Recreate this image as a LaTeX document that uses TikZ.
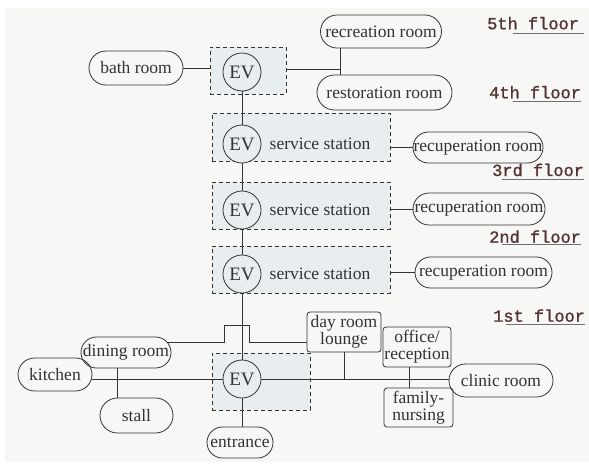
\documentclass[tikz,border=0pt]{standalone}
\usepackage{fontspec}
\setmainfont{Liberation Serif}
\newfontfamily\floorfont[FakeBold=1.2]{Liberation Mono}
\definecolor{paper}{HTML}{F7F8F5}
\definecolor{boxfill}{HTML}{E8EDEF}
\definecolor{ink}{HTML}{333333}
\definecolor{floorink}{HTML}{553333}
\begin{document}
\begin{tikzpicture}[x=1pt,y=-1pt,
  every node/.style={font=\fontsize{17.5}{17}\selectfont, text=ink},
  conn/.style={draw=ink, line width=0.8pt},
  fbox/.style={rectangle, draw=ink, dash pattern=on 4pt off 3pt, line width=0.8pt, fill=boxfill, inner sep=0pt},
  evnode/.style={circle, draw=ink, line width=0.8pt, fill=boxfill, minimum size=38pt, inner sep=0pt, font=\fontsize{19}{19}\selectfont},
  pill/.style={rectangle, draw=ink, line width=0.8pt, inner sep=0pt, minimum height=#1pt, rounded corners=#1pt/2-0.01pt},
  roombox/.style={rectangle, rounded corners=3pt, draw=ink, line width=0.8pt, inner sep=0pt, align=center},
  floor/.style={font=\floorfont\fontsize{17}{17}\selectfont, text=floorink, anchor=base west, inner sep=0pt},
  uline/.style={draw=ink!70, line width=0.7pt}
]
\fill[white] (0,0) rectangle (589,464);
\fill[paper] (5,8) rectangle (589,462);
\useasboundingbox (0,0) rectangle (589,464);

% dashed floor boxes
\node[fbox, minimum width=76pt, minimum height=47pt] (box5) at (248,70.5) {};
\node[fbox, minimum width=178pt, minimum height=48pt] (box4) at (301,137) {};
\node[fbox, minimum width=178pt, minimum height=47pt] (box3) at (301,205.5) {};
\node[fbox, minimum width=178pt, minimum height=47pt] (box2) at (301,269.5) {};
\node[fbox, minimum width=98pt, minimum height=57pt] (box1) at (261,381.5) {};

% elevators
\node[evnode] (ev5) at (242,72) {EV};
\node[evnode] (ev4) at (242,144) {EV};
\node[evnode] (ev3) at (242,210) {EV};
\node[evnode] (ev2) at (242,274) {EV};
\node[evnode] (ev1) at (242,379) {EV};

\node (ss4) at (320,144) {service station};
\node (ss3) at (320,210) {service station};
\node (ss2) at (320,274) {service station};

% rooms
\node[pill=34, minimum width=94pt] (bath) at (136,68) {bath room};
\node[pill=33, minimum width=121pt] (recreation) at (381,31.5) {recreation room};
\node[pill=35, minimum width=135pt] (restoration) at (384.5,92.5) {restoration room};
\node[pill=31, minimum width=130pt] (rec4) at (478,147.5) {recuperation room};
\node[pill=32, minimum width=132pt] (rec3) at (479,209) {recuperation room};
\node[pill=31, minimum width=137pt] (rec2) at (483.5,272.5) {recuperation room};
\node[pill=33, minimum width=74pt] (kitchen) at (55,374.5) {kitchen};
\node[pill=31, minimum width=90pt] (dining) at (126,352.5) {dining room};
\node[pill=35, minimum width=73pt] (stall) at (136.5,415.5) {stall};
\node[pill=31, minimum width=66pt] (entrance) at (240,442.5) {entrance};
\node[pill=33, minimum width=104pt] (clinic) at (501,380.5) {clinic room};
\node[roombox, minimum width=74pt, minimum height=40pt] (dayroom) at (344,332) {day room\\lounge};
\node[roombox, minimum width=68pt, minimum height=40pt] (office) at (417,347) {office/\\reception};
\node[roombox, minimum width=69pt, minimum height=39pt] (family) at (418.5,407.5) {family-\\nursing};

% spine
\draw[conn] (ev5) -- (ev4);
\draw[conn] (ev4) -- (ev3);
\draw[conn] (ev3) -- (ev2);
\draw[conn] (ev2) -- (ev1);

% connectors
\draw[conn] (bath.east) -- (bath.east -| box5.west);
\coordinate (j5) at (340,69);
\draw[conn] (box5.east |- j5) -- (j5);
\draw[conn] (recreation.south -| j5) -- (restoration.north -| j5);
\draw[conn] (box4.east |- rec4.west) -- (rec4.west);
\draw[conn] (box3.east |- rec3.west) -- (rec3.west);
\draw[conn] (box2.east |- rec2.west) -- (rec2.west);
\draw[conn] (ev1.east) -- (ev1.east -| clinic.west);
\draw[conn] (kitchen.east |- ev1.west) -- (ev1.west);
\draw[conn] (dayroom.south) -- (dayroom.south |- ev1.east);
\draw[conn] ([xshift=-8pt]office.south) -- ([xshift=-8pt]office.south |- family.north);
\draw[conn] ([xshift=-9pt]dining.south) -- ([xshift=-9pt]dining.south |- stall.north);
\draw[conn] (ev1.south) -- (ev1.south |- entrance.north);
\coordinate (bumpL) at (224,325);
\coordinate (bumpR) at (249,325);
\draw[conn] ([shift={(-3.5pt,10pt)}]dining.east) -| (bumpL) -- (bumpR) |- ([yshift=-10pt]dayroom.west);

% floor labels
\node[floor] (f5) at (487,29.3) {5th floor};
\node[floor] (f4) at (489,98.3) {4th floor};
\node[floor] (f3) at (492,176) {3rd floor};
\node[floor] (f2) at (489,242.7) {2nd floor};
\node[floor] (f1) at (493,321.7) {1st floor};
\draw[uline] ([shift={(26pt,-4pt)}]f5.base west) -- ([shift={(5pt,-4pt)}]f5.base east);
\draw[uline] ([shift={(24pt,-3.5pt)}]f4.base west) -- ([shift={(0pt,-3.5pt)}]f4.base east);
\draw[uline] ([shift={(10pt,-3.5pt)}]f3.base west) -- ([shift={(0pt,-3.5pt)}]f3.base east);
\draw[uline] ([shift={(13pt,-2pt)}]f2.base west) -- ([shift={(0pt,-2pt)}]f2.base east);
\draw[uline] ([shift={(13pt,-3pt)}]f1.base west) -- ([shift={(0pt,-3pt)}]f1.base east);
\end{tikzpicture}
\end{document}
